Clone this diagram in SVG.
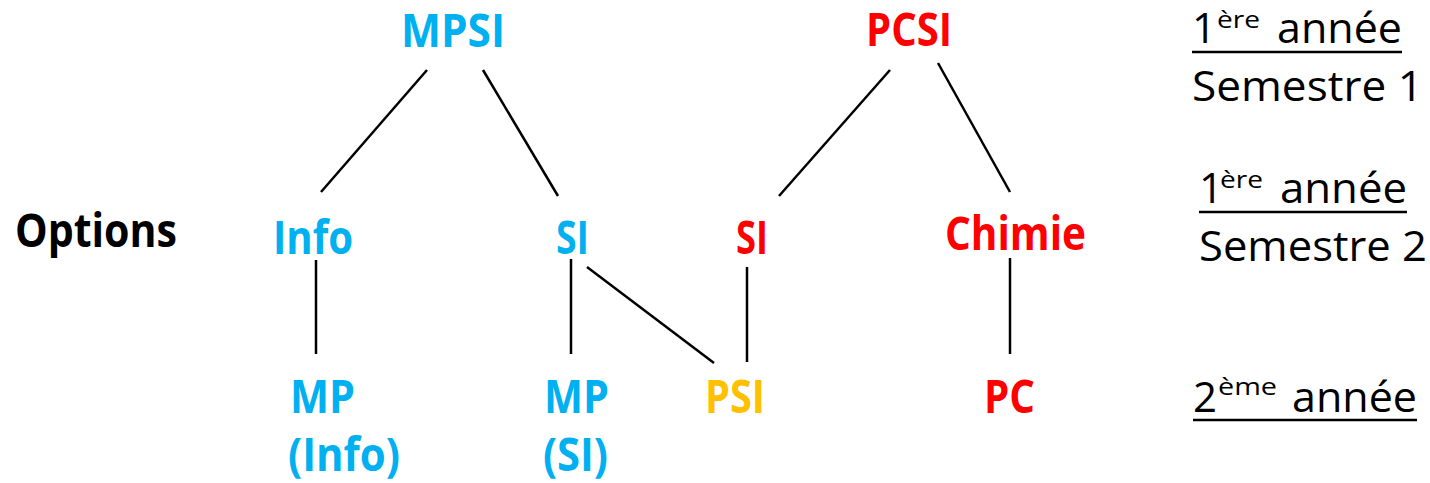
<svg xmlns="http://www.w3.org/2000/svg" width="1430" height="483" viewBox="0 0 1430 483">
<style>
.n{font-family:"Open Sans","Liberation Sans",sans-serif;font-weight:bold;font-size:46px}
.b{fill:#00B0F0}.r{fill:#FF0000}.y{fill:#FFC000}.k{fill:#000}
.l{font-family:"Open Sans","Liberation Sans",sans-serif;font-size:42px;fill:#000}
.s{font-size:24px}
.c line{stroke:#000;stroke-width:2.5}
.u{stroke:#000;stroke-width:2.5}
</style>
<rect width="1430" height="483" fill="#fff"/>
<g class="c" id="connectors">
<line x1="427" y1="70" x2="321" y2="192"/>
<line x1="483" y1="70" x2="558" y2="196"/>
<line x1="890" y1="70" x2="779" y2="196"/>
<line x1="938" y1="63" x2="1010" y2="192"/>
<line x1="316" y1="260" x2="316" y2="354"/>
<line x1="571" y1="259" x2="571" y2="354"/>
<line x1="587" y1="267" x2="714" y2="363"/>
<line x1="747" y1="267" x2="747" y2="362"/>
<line x1="1010" y1="258" x2="1010" y2="354"/>
</g>
<g id="mpsi"><text class="n b" x="401" y="47" textLength="104" lengthAdjust="spacingAndGlyphs">MPSI</text></g>
<g id="pcsi"><text class="n r" x="866" y="46" textLength="86" lengthAdjust="spacingAndGlyphs">PCSI</text></g>
<g id="options"><text class="n k" x="15" y="247" textLength="162" lengthAdjust="spacingAndGlyphs">Options</text></g>
<g id="info"><text class="n b" x="273" y="254" textLength="80" lengthAdjust="spacingAndGlyphs">Info</text></g>
<g id="si-mpsi"><text class="n b" x="556" y="254" textLength="33" lengthAdjust="spacingAndGlyphs">SI</text></g>
<g id="si-pcsi"><text class="n r" x="736" y="254" textLength="32" lengthAdjust="spacingAndGlyphs">SI</text></g>
<g id="chimie"><text class="n r" x="945" y="250" textLength="141" lengthAdjust="spacingAndGlyphs">Chimie</text></g>
<g id="mp-info"><text class="n b"><tspan x="290" y="413" textLength="65" lengthAdjust="spacingAndGlyphs">MP</tspan><tspan x="288" y="471" textLength="112" lengthAdjust="spacingAndGlyphs">(Info)</tspan></text></g>
<g id="mp-si"><text class="n b"><tspan x="544" y="413" textLength="65" lengthAdjust="spacingAndGlyphs">MP</tspan><tspan x="543" y="471" textLength="65" lengthAdjust="spacingAndGlyphs">(SI)</tspan></text></g>
<g id="psi"><text class="n y" x="705" y="413" textLength="60" lengthAdjust="spacingAndGlyphs">PSI</text></g>
<g id="pc"><text class="n r" x="984" y="413" textLength="51" lengthAdjust="spacingAndGlyphs">PC</text></g>
<g id="label-s1">
<text class="l"><tspan x="1192" y="43">1</tspan><tspan class="s" x="1217" y="28" textLength="43" lengthAdjust="spacingAndGlyphs">ère</tspan><tspan x="1277" y="43" textLength="125" lengthAdjust="spacingAndGlyphs">année</tspan></text>
<line class="u" x1="1192" y1="52" x2="1402" y2="52"/>
<text class="l" x="1192" y="101" textLength="231" lengthAdjust="spacingAndGlyphs">Semestre 1</text>
</g>
<g id="label-s2">
<text class="l"><tspan x="1199" y="203">1</tspan><tspan class="s" x="1220" y="188" textLength="43" lengthAdjust="spacingAndGlyphs">ère</tspan><tspan x="1280" y="203" textLength="127" lengthAdjust="spacingAndGlyphs">année</tspan></text>
<line class="u" x1="1199" y1="212" x2="1407" y2="212"/>
<text class="l" x="1199" y="261" textLength="228" lengthAdjust="spacingAndGlyphs">Semestre 2</text>
</g>
<g id="label-a2">
<text class="l"><tspan x="1193" y="412">2</tspan><tspan class="s" x="1218" y="395" textLength="59" lengthAdjust="spacingAndGlyphs">ème</tspan><tspan x="1292" y="412" textLength="125" lengthAdjust="spacingAndGlyphs">année</tspan></text>
<line class="u" x1="1193" y1="420" x2="1417" y2="420"/>
</g>
</svg>
